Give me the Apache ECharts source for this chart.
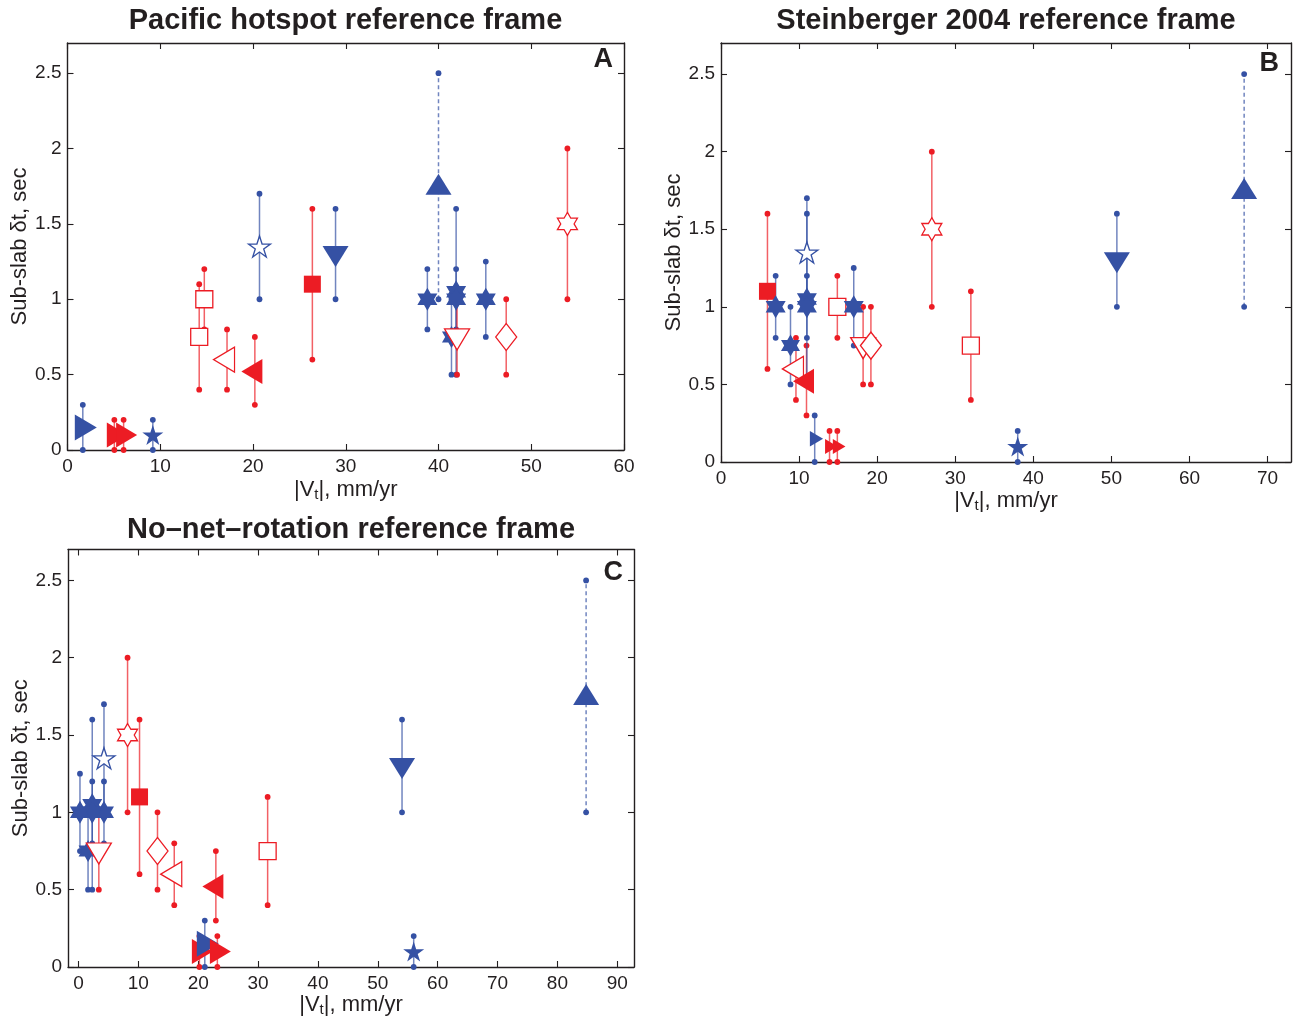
<!DOCTYPE html>
<html><head><meta charset="utf-8">
<script src="https://cdn.jsdelivr.net/npm/echarts@6/dist/echarts.min.js"></script>
<style>html,body{margin:0;padding:0;background:#fff}#c{width:1294px;height:1019px}</style>
</head><body><div id="c"></div>
<script>
// ---------- data ----------
const markerIds = ['redFilledSquare','redOpenSquareLow','redOpenSquareHigh','redOpenLeftTri','redFilledLeftTri',
  'redRightTri1','blueRightTri','redRightTri2','hexA','hexB','hexC','hexD','hexE','blueOpenStar',
  'redOpenDownTri','redOpenDiamond','redOpenHexagram','blueStar','blueDownTri','blueUpTri'];
const delayT  = [1.1, 0.75, 1.0, 0.6, 0.52, 0.1, 0.15, 0.1, 1.0, 1.05, 1.0, 1.0, 0.75, 1.35, 0.75, 0.75, 1.5, 0.1, 1.3, 1.75];
const delayLo = [0.6, 0.4, 0.8, 0.4, 0.3, 0, 0, 0, 0.8, 0.5, 0.8, 0.75, 0.5, 1.0, 0.5, 0.5, 1.0, 0, 1.0, 1.0];
const delayHi = [1.6, 1.1, 1.2, 0.8, 0.75, 0.2, 0.3, 0.2, 1.2, 1.6, 1.2, 1.25, 1.0, 1.7, 1.0, 1.0, 2.0, 0.2, 1.6, 2.5];
const vtPacific     = [26.4, 14.2, 14.75, 17.2, 20.2, 5.05, 1.65, 6.05, 38.8, 41.9, 41.9, 45.1, 41.4, 20.7, 42.0, 47.3, 53.9, 9.2, 28.9, 40.0];
const vtSteinberger = [5.95, 32.0, 14.9, 9.6, 10.95, 13.9, 12.0, 14.9, 7.0, 11.0, 11.0, 17.0, 8.9, 11.0, 18.2, 19.2, 27.0, 38.0, 50.7, 67.0];
const vtNNR         = [10.2, 31.6, null, 16.0, 22.95, 20.2, 21.1, 23.2, 4.26, 2.3, 2.3, 0.25, 1.6, 4.26, 3.4, 13.2, 8.2, 56.0, 54.05, 84.8];
const xTicksA = [0, 10, 20, 30, 40, 50, 60];
const xTicksB = [0, 10, 20, 30, 40, 50, 60, 70];
const xTicksC = [0, 10, 20, 30, 40, 50, 60, 70, 80, 90];
const yTicks  = [0, 0.5, 1, 1.5, 2, 2.5];
const panelTitles  = ['Pacific hotspot reference frame', 'Steinberger 2004 reference frame', 'No\u2013net\u2013rotation reference frame'];
const panelLetters = ['A', 'B', 'C'];
const xLabelText = '|V{s|t}|, mm/yr';
const yLabelText = 'Sub-slab \u03b4t, sec';

// ---------- styles / layout ----------
const BLUE = '#3551a4', RED = '#ec1c24', INK = '#231f20';
const FONT = '"Liberation Sans", Arial, Helvetica, sans-serif';
const STAR5 = 'path://M100,0 L122.45,69.1 L195.11,69.1 L136.33,111.8 L158.78,180.9 L100,138.2 L41.22,180.9 L63.67,111.8 L4.89,69.1 L77.55,69.1 Z';
const HEX6 = 'path://M100,0 L128.87,50 L186.6,50 L157.74,100 L186.6,150 L128.87,150 L100,200 L71.13,150 L13.4,150 L42.26,100 L13.4,50 L71.13,50 Z';
const styleOf = {
  redFilledSquare:  {c: RED, sym: 'rect', size: [17, 17], fill: true},
  redOpenSquareLow: {c: RED, sym: 'rect', size: [17, 17], fill: false},
  redOpenSquareHigh:{c: RED, sym: 'rect', size: [17, 17], fill: false},
  redOpenLeftTri:   {c: RED, sym: 'triangle', size: [25, 21], rot: 90, off: [-3, 0], fill: false},
  redFilledLeftTri: {c: RED, sym: 'triangle', size: [25, 21], rot: 90, off: [-3, 0], fill: true},
  redRightTri1:     {c: RED, sym: 'triangle', size: [25, 21], rot: -90, off: [3, 0], fill: true, smallB: true},
  blueRightTri:     {c: BLUE, sym: 'triangle', size: [26, 22], rot: -90, off: [3, 0], fill: true, smallB: true},
  redRightTri2:     {c: RED, sym: 'triangle', size: [25, 21], rot: -90, off: [3, 0], fill: true, smallB: true},
  hexA: {c: BLUE, sym: HEX6, size: [20, 23], fill: true},
  hexB: {c: BLUE, sym: HEX6, size: [20, 23], fill: true},
  hexC: {c: BLUE, sym: HEX6, size: [20, 23], fill: true},
  hexD: {c: BLUE, sym: HEX6, size: [20, 23], fill: true},
  hexE: {c: BLUE, sym: HEX6, size: [19, 22], fill: true},
  blueOpenStar:     {c: BLUE, sym: STAR5, size: [22, 21], fill: false},
  redOpenDownTri:   {c: RED, sym: 'triangle', size: [25, 21], rot: 180, off: [0, 2.5], fill: false},
  redOpenDiamond:   {c: RED, sym: 'diamond', size: [21, 27], fill: false},
  redOpenHexagram:  {c: RED, sym: HEX6, size: [20, 23], fill: false},
  blueStar:         {c: BLUE, sym: STAR5, size: [21, 20], fill: true},
  blueDownTri:      {c: BLUE, sym: 'triangle', size: [26, 21], rot: 180, off: [0, 2.5], fill: true},
  blueUpTri:        {c: BLUE, sym: 'triangle', size: [26, 21], rot: 0, off: [0, -2], fill: true, dashed: true}
};

const panels = [
  {grid: {left: 67.5, top: 43, width: 556.5, height: 407}, xmin: 0, xmax: 60, xt: xTicksA, xs: vtPacific,
   title: [345.5, 21], letter: [613, 60], yname: 31, xname: 28},
  {grid: {left: 721, top: 43, width: 570, height: 419}, xmin: 0, xmax: 73, xt: xTicksB, xs: vtSteinberger,
   title: [1006, 21], letter: [1279, 64], yname: 30, xname: 27},
  {grid: {left: 68, top: 549.5, width: 566, height: 417.5}, xmin: -1.75, xmax: 92.8, xt: xTicksC, xs: vtNNR,
   title: [351, 530], letter: [623, 573], yname: 31, xname: 25}
];

function axisBase(ticks, showLabel) {
  return {
    axisLine: {show: true, onZero: false, lineStyle: {color: INK, width: 1.4}},
    axisTick: {show: true, inside: true, length: 6, customValues: ticks, lineStyle: {color: INK, width: 1.1}},
    axisLabel: {show: showLabel, customValues: ticks, color: INK, fontSize: 19, fontFamily: FONT},
    splitLine: {show: false}
  };
}

const grid = [], xAxis = [], yAxis = [], series = [], graphic = [];
panels.forEach((p, i) => {
  grid.push(Object.assign({containLabel: false}, p.grid));
  const xb = Object.assign(axisBase(p.xt, true), {type: 'value', gridIndex: i, position: 'bottom', min: p.xmin, max: p.xmax,
    name: xLabelText, nameLocation: 'middle', nameGap: p.xname,
    nameTextStyle: {fontSize: 22, fontFamily: FONT, color: INK,
      rich: {s: {fontSize: 15, fontFamily: FONT, color: INK, padding: [9, 0, 0, 0]}}}});
  xb.axisLabel.margin = 7;
  xAxis.push(xb);
  xAxis.push(Object.assign(axisBase(p.xt, false), {type: 'value', gridIndex: i, position: 'top', min: p.xmin, max: p.xmax}));
  const yl = Object.assign(axisBase(yTicks, true), {type: 'value', gridIndex: i, position: 'left', min: 0, max: 2.7,
    name: yLabelText, nameLocation: 'middle', nameGap: p.yname, nameRotate: 90,
    nameTextStyle: {fontSize: 22, fontFamily: FONT, color: INK}});
  yl.axisLabel.margin = 6;
  yAxis.push(yl);
  yAxis.push(Object.assign(axisBase(yTicks, false), {type: 'value', gridIndex: i, position: 'right', min: 0, max: 2.7}));

  markerIds.forEach((id, k) => {
    const x = p.xs[k];
    if (x === null || x === undefined) return;
    const st = styleOf[id];
    const col = st.c;
    series.push({
      type: 'custom', xAxisIndex: 2 * i, yAxisIndex: 2 * i, silent: true, animation: false, clip: false,
      data: [[x, delayLo[k], delayHi[k]]], encode: {x: 0, y: [1, 2]},
      renderItem: (params, api) => {
        const a = api.coord([api.value(0), api.value(1)]);
        const b = api.coord([api.value(0), api.value(2)]);
        return {type: 'group', children: [
          {type: 'line', shape: {x1: a[0], y1: a[1], x2: b[0], y2: b[1]},
           style: {stroke: col, lineWidth: 1.5, opacity: 0.7, lineDash: st.dashed ? [4, 3] : null}},
          {type: 'circle', shape: {cx: a[0], cy: a[1], r: 2.9}, style: {fill: col}},
          {type: 'circle', shape: {cx: b[0], cy: b[1], r: 2.9}, style: {fill: col}}
        ]};
      }
    });
    const f = (i === 1 && st.smallB) ? 0.6 : 1;
    series.push({
      type: 'scatter', xAxisIndex: 2 * i, yAxisIndex: 2 * i, silent: true, animation: false,
      data: [[x, delayT[k]]], symbol: st.sym,
      symbolSize: [st.size[0] * f, st.size[1] * f],
      symbolRotate: st.rot || 0,
      symbolOffset: st.off ? [st.off[0] * f, st.off[1] * f] : [0, 0],
      itemStyle: {color: st.fill ? col : '#ffffff', borderColor: col, borderWidth: st.fill ? 0 : 1.3, opacity: 1}
    });
  });

  graphic.push({type: 'text', x: p.title[0], y: p.title[1], silent: true,
    style: {text: panelTitles[i], font: 'bold 29px ' + FONT, fill: INK, align: 'center', verticalAlign: 'middle',
            textAlign: 'center', textVerticalAlign: 'middle'}});
  graphic.push({type: 'text', x: p.letter[0], y: p.letter[1], silent: true,
    style: {text: panelLetters[i], font: 'bold 27px ' + FONT, fill: INK, align: 'right', verticalAlign: 'middle',
            textAlign: 'right', textVerticalAlign: 'middle'}});
});

const chart = echarts.init(document.getElementById('c'), null, {renderer: 'canvas'});
chart.setOption({backgroundColor: '#ffffff', animation: false, grid, xAxis, yAxis, series, graphic});
</script>
</body></html>
